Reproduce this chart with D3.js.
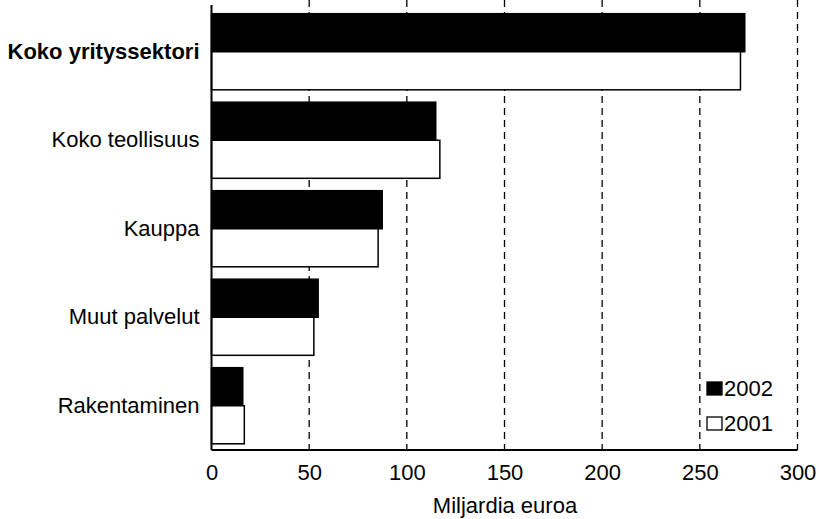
<!DOCTYPE html>
<html><head><meta charset="utf-8">
<script src="https://cdn.jsdelivr.net/npm/d3@7"></script>
<style>body{margin:0;background:#fff}svg{display:block}text{font-family:"Liberation Sans",Arial,sans-serif;fill:#000}</style>
</head><body>
<svg id="c" width="819" height="519"></svg>
<script>
const categories = ["Koko yrityssektori","Koko teollisuus","Kauppa","Muut palvelut","Rakentaminen"];
const series = ["2002","2001"];
const values2002 = [273, 114.8, 87.4, 54.6, 16];
const values2001 = [270.8, 116.9, 85.3, 52.4, 16.8];
const xTicks = [0,50,100,150,200,250,300];
const xTitle = "Miljardia euroa";

const FS = "22px";
const svg = d3.select("#c");
const x = d3.scaleLinear().domain([0,300]).range([211.5,797.5]);
const y = d3.scaleBand().domain(categories).range([7.5,450]).paddingInner(0.14).paddingOuter(0.07);
const ys = d3.scaleBand().domain(series).range([0,y.bandwidth()]);
const fills = {"2002":"#000","2001":"#fff"};

// gridlines
svg.append("g").selectAll("line").data(xTicks.filter(d=>d>0)).join("line")
  .attr("x1",d=>x(d)).attr("x2",d=>x(d)).attr("y1",0).attr("y2",450)
  .attr("stroke","#000").attr("stroke-width",1.3).attr("stroke-dasharray","7,5");

// bars
const data = [];
categories.forEach((c,i)=>{data.push({c,s:"2002",v:values2002[i]});data.push({c,s:"2001",v:values2001[i]});});
svg.append("g").selectAll("rect").data(data).join("rect")
  .attr("x",x(0)).attr("y",d=>y(d.c)+ys(d.s))
  .attr("width",d=>x(d.v)-x(0)).attr("height",ys.bandwidth())
  .attr("fill",d=>fills[d.s]).attr("stroke","#000").attr("stroke-width",1.5);

// x axis
const xa = svg.append("g").attr("transform","translate(0,450)")
  .call(d3.axisBottom(x).tickValues(xTicks).tickSize(0).tickPadding(14));
xa.select(".domain").attr("stroke","#000").attr("stroke-width",2).attr("d","M"+x(0)+",0H"+x(300));
xa.selectAll("text").style("font-size",FS).style("font-family","Liberation Sans, Arial, sans-serif");

// y axis
const ya = svg.append("g").attr("transform","translate("+x(0)+",0)")
  .call(d3.axisLeft(y).tickSize(0).tickPadding(12));
ya.select(".domain").attr("stroke","#000").attr("stroke-width",2).attr("d","M0,5V450");
ya.selectAll("text").style("font-size",FS).style("font-family","Liberation Sans, Arial, sans-serif")
  .style("font-weight",(d,i)=>i===0?"bold":"normal");

svg.append("text").attr("x",505).attr("y",513).attr("text-anchor","middle")
  .style("font-size",FS).text(xTitle);

// legend
const lg = svg.append("g").selectAll("g").data(series).join("g")
  .attr("transform",(d,i)=>"translate(707,"+(382+i*35)+")");
lg.append("rect").attr("width",15).attr("height",13).attr("fill",d=>fills[d]).attr("stroke","#000").attr("stroke-width",1.3);
lg.append("text").attr("x",17).attr("y",14).style("font-size",FS).text(d=>d);
</script>
</body></html>
